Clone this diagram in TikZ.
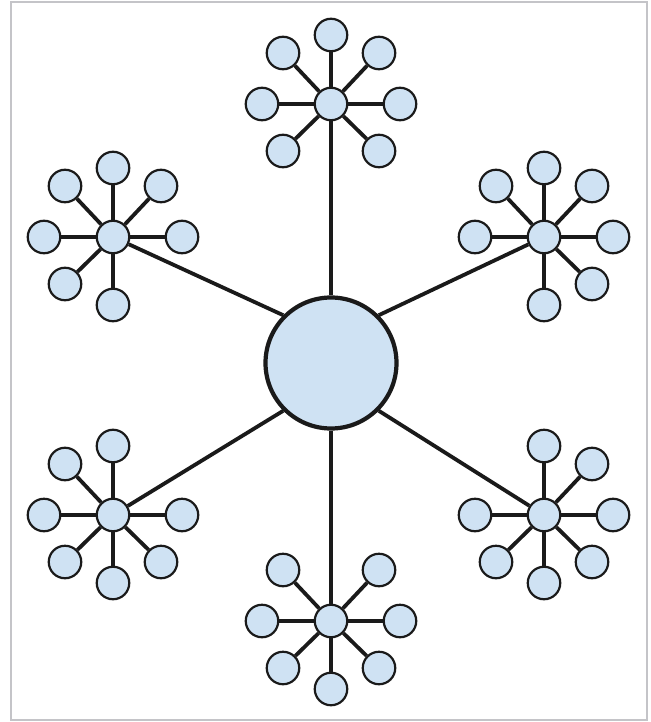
\documentclass[tikz,border=0pt]{standalone}
\usetikzlibrary{calc}
\definecolor{nodefill}{HTML}{CFE2F3}
\definecolor{ink}{HTML}{1A1A1A}
\definecolor{framegray}{HTML}{C4C4C8}
\begin{document}
\begin{tikzpicture}[x=1pt,y=-1pt,
  smallnode/.style={circle,draw=ink,fill=nodefill,line width=2.2pt,minimum size=32.5pt,inner sep=0pt},
  centernode/.style={circle,draw=ink,fill=nodefill,line width=4.2pt,minimum size=131pt,inner sep=0pt},
  link/.style={draw=ink,line width=3.8pt}]
\useasboundingbox (0,0) rectangle (650,722);
\draw[framegray,line width=2pt] (11,2) rectangle (647,720);
\node[centernode] (c) at (331,363) {};
\foreach \name/\x/\y/\skip/\ang in {t/331/104/4/90, ul/113/237/3/135, ur/544/237/5/45, ll/113/515/1/225, lr/544/515/7/-45, b/331/621/0/-90}{
  \node[smallnode] (\name) at (\x,\y) {};
  \draw[link] (c.\ang) -- (\name);
  \foreach \i/\dx/\dy in {0/0/-69, 1/48/-51, 2/69/0, 3/48/47, 4/0/68, 5/-48/47, 6/-69/0, 7/-48/-51}{
    \ifnum\i=\skip\relax\else
      \node[smallnode] (\name\i) at ($(\name)+(\dx,\dy)$) {};
      \draw[link] (\name) -- (\name\i);
    \fi
  }
}
\end{tikzpicture}
\end{document}
